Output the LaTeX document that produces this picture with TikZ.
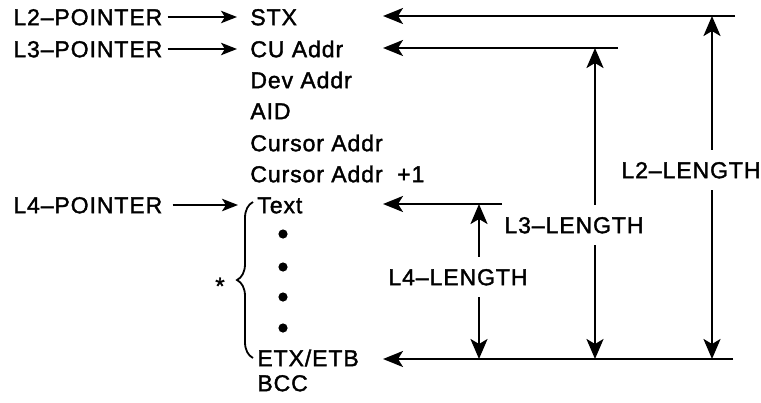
\documentclass[tikz,border=0pt]{standalone}
\usepackage{fontspec}
\setmainfont{Liberation Sans}[LetterSpace=4,FakeBold=1.6]
\usetikzlibrary{arrows.meta,decorations.pathreplacing}

\tikzset{
  fld/.style={anchor=west,inner sep=0pt,text height=8.2pt,text depth=0pt,
    font=\fontsize{11.5}{13}\selectfont},
  ptr/.style={-{Stealth[length=8pt,width=6.2pt,inset=2pt]},line width=1.2pt},
  ret/.style={-{Stealth[length=10pt,width=8pt,inset=2.5pt]},line width=1.2pt},
  len/.style={{Stealth[length=10pt,width=8.5pt,inset=2.5pt]}-{Stealth[length=10pt,width=8.5pt,inset=2.5pt]},line width=1.2pt},
  lenlbl/.style={fill=white,inner xsep=2pt,inner ysep=6pt,text height=8.2pt,text depth=0pt,
    font=\fontsize{11.5}{13}\selectfont}
}

\begin{document}
\begin{tikzpicture}[x=0.5pt,y=-0.5pt]
\useasboundingbox (0,0) rectangle (761,402);

% pointers
\node[fld] (l2p) at (13,17) {L2--POINTER};
\node[fld] (l3p) at (13,49) {L3--POINTER};
\node[fld] (l4p) at (13,205) {L4--POINTER};

% fields
\node[fld] (stx) at (250,17) {STX};
\node[fld] (cu) at (250,49) {CU Addr};
\node[fld] (dev) at (250,80) {Dev Addr};
\node[fld] (aid) at (250,111) {AID};
\node[fld] (cur) at (250,143) {Cursor Addr};
\node[fld] (curp) at (250,174) {Cursor Addr\ \ +1};
\node[fld] (txt) at (257,205) {Text};
\node[fld] (etx) at (257,358) {ETX/ETB};
\node[fld] (bcc) at (257,383) {BCC};

\foreach \y in {234,267,297,328}
  \fill (283,\y) circle (4.6);

\draw[decorate,decoration={brace,amplitude=8pt},line width=0.9pt] (253,358) -- (253,202);
\node[inner sep=0pt,font=\fontsize{12}{13}\selectfont] (star) at (220,286) {*};

\draw[ptr,shorten <=2.5pt,shorten >=6.5pt] (l2p) -- (stx);
\draw[ptr,shorten <=2.5pt,shorten >=6.5pt] (l3p) -- (cu);
\draw[ptr,shorten <=5pt,shorten >=9.5pt] (l4p) -- (txt);

% lengths
\coordinate (r2) at (735,16);
\coordinate (r3) at (618,48);
\coordinate (r4) at (502,204);
\coordinate (rb) at (733,359);
\coordinate (t2) at (383,16);
\coordinate (t3) at (383,48);
\coordinate (t4) at (383,204);
\coordinate (tb) at (383,359);

\draw[ret] (r2) -- (t2);
\draw[ret] (r3) -- (t3);
\draw[ret] (r4) -- (t4);
\draw[ret] (rb) -- (tb);

\coordinate (a2) at (712,16);
\coordinate (b2) at (712,359);
\coordinate (a3) at (595,48);
\coordinate (b3) at (595,359);
\coordinate (a4) at (479,204);
\coordinate (b4) at (479,359);

\draw[len] (b2) -- (a2);
\draw[len] (b3) -- (a3);
\draw[len] (b4) -- (a4);

\node[lenlbl] (l2len) at (691,170) {L2--LENGTH};
\node[lenlbl] (l3len) at (574,225) {L3--LENGTH};
\node[lenlbl] (l4len) at (458,277) {L4--LENGTH};

\end{tikzpicture}
\end{document}
